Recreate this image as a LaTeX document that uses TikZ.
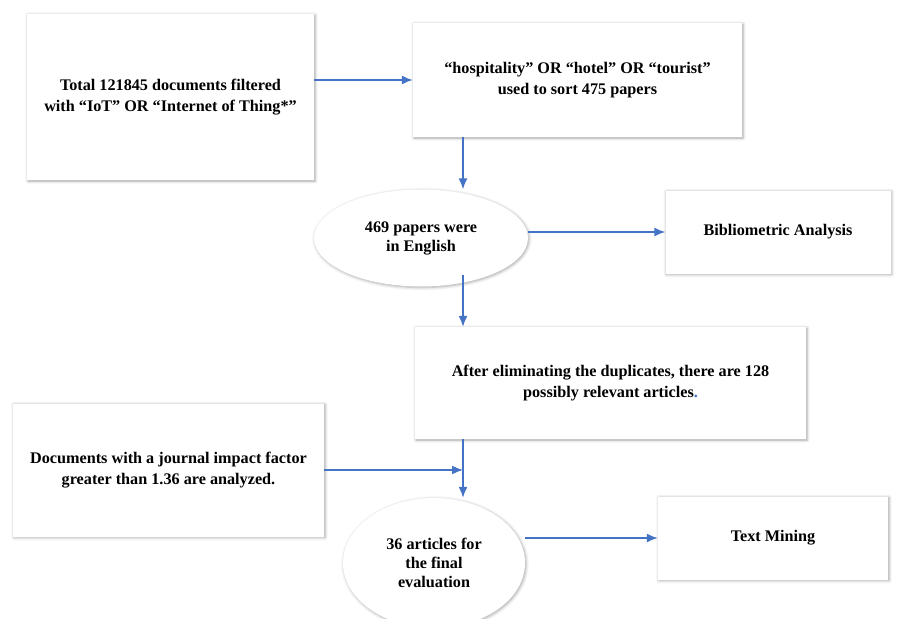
\documentclass[tikz,border=0pt]{standalone}
\usepackage{xcolor}
\usepackage{fontspec}
\setmainfont{Liberation Serif}
\usepackage{tikz}
\usetikzlibrary{arrows.meta}
\usetikzlibrary{shapes}
\usetikzlibrary{shapes.geometric}
\usetikzlibrary{shadows.blur}

\definecolor{flowblue}{HTML}{4472C4}

\begin{document}
\begin{tikzpicture}[x=1pt, y=-1pt,
  box/.style={rectangle, fill=white, draw=none, inner sep=0pt, align=center,
    blur shadow={shadow xshift=1pt, shadow yshift=-1pt, shadow blur radius=3pt, shadow opacity=35},
    font=\bfseries\fontsize{16.2}{20.5}\selectfont},
  oval/.style={ellipse, fill=white, draw=none, inner sep=0pt, align=center,
    blur shadow={shadow xshift=1pt, shadow yshift=-1pt, shadow blur radius=3pt, shadow opacity=35},
    font=\bfseries\fontsize{16.2}{19}\selectfont},
  flow/.style={-{Latex[length=11pt, width=9pt]}, draw=flowblue, line width=1.5pt}]
\useasboundingbox (0,0) rectangle (901,618);
\clip (0,0) rectangle (901,618);

\node [box, minimum width=287, minimum height=166] (total) at (170.5, 97) {Total 121845 documents filtered\\with “IoT” OR “Internet of Thing*”};
\node [box, minimum width=329, minimum height=114] (sort) at (577.5, 80) {“hospitality” OR “hotel” OR “tourist”\\used to sort 475 papers};
\node [oval, minimum width=214, minimum height=97] (english) at (421, 238) {469 papers were\\in English};
\node [box, minimum width=225, minimum height=83] (biblio) at (778, 232) {Bibliometric Analysis};
\node [box, minimum width=391, minimum height=112] (dupl) at (610.5, 383) {After eliminating the duplicates, there are 128\\possibly relevant articles\textcolor{flowblue}{.}};
\node [box, minimum width=311, minimum height=133] (impact) at (168.5, 470) {Documents with a journal impact factor\\greater than 1.36 are analyzed.};
\node [oval, minimum width=182, minimum height=130] (final) at (434, 563) {36 articles for\\the final\\evaluation};
\node [box, minimum width=230, minimum height=83] (mining) at (773, 538) {Text Mining};

\coordinate (spine) at (463, 0);
\coordinate (join) at (463, 470);

\draw [flow] (total.east |- sort.west) to (sort.west);
\draw [flow] (sort.south -| spine) to (english.north -| spine);
\draw [flow] (english.east |- biblio.west) to (biblio.west);
\draw [flow, shorten <=-12pt] (english.south -| spine) to (dupl.north -| spine);
\draw [flow] (dupl.south -| spine) to (final.north -| spine);
\draw [flow] (impact.east) to (join);
\draw [flow] (final.east |- mining.west) to (mining.west);
\end{tikzpicture}
\end{document}
